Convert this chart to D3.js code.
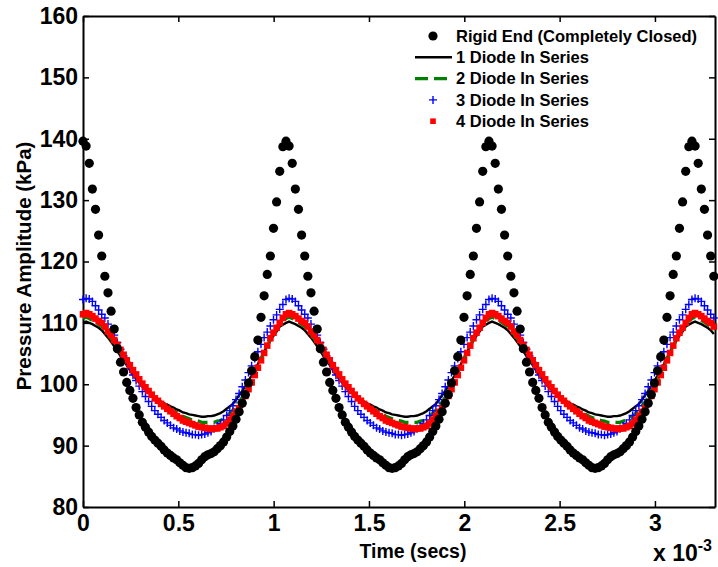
<!DOCTYPE html>
<html>
<head>
<meta charset="utf-8">
<script src="https://cdn.jsdelivr.net/npm/d3@7"></script>
<style>
body { margin: 0; background: #fff; }
text { font-family: "Liberation Sans", Arial, Helvetica, sans-serif; font-weight: bold; fill: #000; }
</style>
</head>
<body>
<svg id="chart" width="718" height="567"></svg>
<script>
// Pressure amplitude vs time, sampled every TIME_STEP (x 10^-3 s)
const TIME_STEP = 0.01638;

const rigidEnd = [
    139.6,138.8,136.0,131.8,128.5,124.3,120.9,117.6,114.9,111.9,109.0,105.8,103.6,102.0,100.3,99.0,97.7,96.2,95.0,93.8,93.0,92.2,91.5,90.9,90.4,89.9,89.3,88.8,88.4,88.0,87.7,87.2,86.8,86.4,86.3,86.4,86.7,87.1,87.7,88.2,88.5,88.7,89.0,89.5,90.0,90.6,91.4,92.3,93.2,94.3,95.5,96.9,98.3,100.2,102.2,104.5,107.2,110.9,114.4,117.9,120.9,125.4,129.7,134.7,138.7,
    139.6,138.8,136.0,131.8,128.5,124.3,120.9,117.6,114.9,111.9,109.0,105.8,103.6,102.0,100.3,99.0,97.7,96.2,95.0,93.8,93.0,92.2,91.5,90.9,90.4,89.9,89.3,88.8,88.4,88.0,87.7,87.2,86.8,86.4,86.3,86.4,86.7,87.1,87.7,88.2,88.5,88.7,89.0,89.5,90.0,90.6,91.4,92.3,93.2,94.3,95.5,96.9,98.3,100.2,102.2,104.5,107.2,110.9,114.4,117.9,120.9,125.4,129.7,134.7,138.7,
    139.6,138.8,136.0,131.8,128.5,124.3,120.9,117.6,114.9,111.9,109.0,105.8,103.6,102.0,100.3,99.0,97.7,96.2,95.0,93.8,93.0,92.2,91.5,90.9,90.4,89.9,89.3,88.8,88.4,88.0,87.7,87.2,86.8,86.4,86.3,86.4,86.7,87.1,87.7,88.2,88.5,88.7,89.0,89.5,90.0,90.6,91.4,92.3,93.2,94.3,95.5,96.9,98.3,100.2,102.2,104.5,107.2,110.9,114.4,117.9,120.9,125.4,129.7,134.7,138.7,
    139.6,138.8,136.0,131.8,128.5,124.3,120.9,117.6
];

const diode1 = [
    110.0,110.2,110.0,109.8,109.5,109.2,108.8,108.2,107.6,106.9,106.2,105.4,104.6,103.9,103.1,102.3,101.5,100.9,100.3,99.6,99.1,98.7,98.2,97.8,97.5,97.2,96.9,96.7,96.4,96.2,95.9,95.7,95.4,95.3,95.1,95.0,94.9,94.8,94.7,94.7,94.8,94.8,94.9,95.1,95.3,95.6,96.0,96.4,96.8,97.5,98.2,98.9,99.7,100.6,101.4,102.4,103.3,104.3,105.3,106.2,107.1,107.9,108.6,109.4,109.7,
    110.0,110.2,110.0,109.8,109.5,109.2,108.8,108.2,107.6,106.9,106.2,105.4,104.6,103.9,103.1,102.3,101.5,100.9,100.3,99.6,99.1,98.7,98.2,97.8,97.5,97.2,96.9,96.7,96.4,96.2,95.9,95.7,95.4,95.3,95.1,95.0,94.9,94.8,94.7,94.7,94.8,94.8,94.9,95.1,95.3,95.6,96.0,96.4,96.8,97.5,98.2,98.9,99.7,100.6,101.4,102.4,103.3,104.3,105.3,106.2,107.1,107.9,108.6,109.4,109.7,
    110.0,110.2,110.0,109.8,109.5,109.2,108.8,108.2,107.6,106.9,106.2,105.4,104.6,103.9,103.1,102.3,101.5,100.9,100.3,99.6,99.1,98.7,98.2,97.8,97.5,97.2,96.9,96.7,96.4,96.2,95.9,95.7,95.4,95.3,95.1,95.0,94.9,94.8,94.7,94.7,94.8,94.8,94.9,95.1,95.3,95.6,96.0,96.4,96.8,97.5,98.2,98.9,99.7,100.6,101.4,102.4,103.3,104.3,105.3,106.2,107.1,107.9,108.6,109.4,109.7,
    110.0,110.2,110.0,109.8,109.5,109.2,108.8,108.2
];

const diode2 = [
    110.7,110.9,110.7,110.4,110.1,109.7,109.4,108.8,108.1,107.4,106.7,105.9,105.1,104.3,103.5,102.7,101.9,101.2,100.5,99.8,99.3,98.8,98.2,97.8,97.4,97.0,96.6,96.3,96.0,95.7,95.4,95.1,94.8,94.6,94.4,94.2,94.1,94.0,93.8,93.8,93.8,93.8,93.8,94.0,94.1,94.4,94.8,95.3,95.8,96.5,97.1,97.9,98.9,99.9,100.8,101.9,103.0,104.1,105.2,106.2,107.3,108.2,108.9,109.7,110.3,
    110.7,110.9,110.7,110.4,110.1,109.7,109.4,108.8,108.1,107.4,106.7,105.9,105.1,104.3,103.5,102.7,101.9,101.2,100.5,99.8,99.3,98.8,98.2,97.8,97.4,97.0,96.6,96.3,96.0,95.7,95.4,95.1,94.8,94.6,94.4,94.2,94.1,94.0,93.8,93.8,93.8,93.8,93.8,94.0,94.1,94.4,94.8,95.3,95.8,96.5,97.1,97.9,98.9,99.9,100.8,101.9,103.0,104.1,105.2,106.2,107.3,108.2,108.9,109.7,110.3,
    110.7,110.9,110.7,110.4,110.1,109.7,109.4,108.8,108.1,107.4,106.7,105.9,105.1,104.3,103.5,102.7,101.9,101.2,100.5,99.8,99.3,98.8,98.2,97.8,97.4,97.0,96.6,96.3,96.0,95.7,95.4,95.1,94.8,94.6,94.4,94.2,94.1,94.0,93.8,93.8,93.8,93.8,93.8,94.0,94.1,94.4,94.8,95.3,95.8,96.5,97.1,97.9,98.9,99.9,100.8,101.9,103.0,104.1,105.2,106.2,107.3,108.2,108.9,109.7,110.3,
    110.7,110.9,110.7,110.4,110.1,109.7,109.4,108.8
];

const diode3 = [
    113.8,114.0,113.9,113.5,112.8,112.1,111.4,110.8,109.8,108.9,108.0,106.8,105.7,104.6,103.6,102.5,101.5,100.6,99.7,98.8,98.0,97.2,96.4,95.7,95.1,94.6,94.1,93.7,93.3,92.9,92.7,92.4,92.2,92.1,92.0,91.8,91.8,91.7,91.8,91.9,92.1,92.3,92.8,93.2,93.6,94.2,94.9,95.7,96.5,97.5,98.5,99.6,100.7,101.9,103.0,104.2,105.3,106.5,107.6,108.5,109.5,110.5,111.3,112.2,113.0,
    113.8,114.0,113.9,113.5,112.8,112.1,111.4,110.8,109.8,108.9,108.0,106.8,105.7,104.6,103.6,102.5,101.5,100.6,99.7,98.8,98.0,97.2,96.4,95.7,95.1,94.6,94.1,93.7,93.3,92.9,92.7,92.4,92.2,92.1,92.0,91.8,91.8,91.7,91.8,91.9,92.1,92.3,92.8,93.2,93.6,94.2,94.9,95.7,96.5,97.5,98.5,99.6,100.7,101.9,103.0,104.2,105.3,106.5,107.6,108.5,109.5,110.5,111.3,112.2,113.0,
    113.8,114.0,113.9,113.5,112.8,112.1,111.4,110.8,109.8,108.9,108.0,106.8,105.7,104.6,103.6,102.5,101.5,100.6,99.7,98.8,98.0,97.2,96.4,95.7,95.1,94.6,94.1,93.7,93.3,92.9,92.7,92.4,92.2,92.1,92.0,91.8,91.8,91.7,91.8,91.9,92.1,92.3,92.8,93.2,93.6,94.2,94.9,95.7,96.5,97.5,98.5,99.6,100.7,101.9,103.0,104.2,105.3,106.5,107.6,108.5,109.5,110.5,111.3,112.2,113.0,
    113.8,114.0,113.9,113.5,112.8,112.1,111.4,110.8
];

const diode4 = [
    111.4,111.6,111.4,111.1,110.7,110.3,110.0,109.4,108.6,108.0,107.2,106.4,105.6,104.8,103.9,103.1,102.3,101.6,100.8,100.1,99.5,98.9,98.3,97.7,97.3,96.8,96.4,96.0,95.6,95.2,94.8,94.5,94.1,93.9,93.7,93.5,93.3,93.1,93.0,92.9,92.8,92.7,92.8,92.8,93.0,93.2,93.6,94.2,94.8,95.5,96.1,97.0,98.1,99.2,100.3,101.5,102.7,103.9,105.1,106.3,107.5,108.4,109.2,110.0,110.8,
    111.4,111.6,111.4,111.1,110.7,110.3,110.0,109.4,108.6,108.0,107.2,106.4,105.6,104.8,103.9,103.1,102.3,101.6,100.8,100.1,99.5,98.9,98.3,97.7,97.3,96.8,96.4,96.0,95.6,95.2,94.8,94.5,94.1,93.9,93.7,93.5,93.3,93.1,93.0,92.9,92.8,92.7,92.8,92.8,93.0,93.2,93.6,94.2,94.8,95.5,96.1,97.0,98.1,99.2,100.3,101.5,102.7,103.9,105.1,106.3,107.5,108.4,109.2,110.0,110.8,
    111.4,111.6,111.4,111.1,110.7,110.3,110.0,109.4,108.6,108.0,107.2,106.4,105.6,104.8,103.9,103.1,102.3,101.6,100.8,100.1,99.5,98.9,98.3,97.7,97.3,96.8,96.4,96.0,95.6,95.2,94.8,94.5,94.1,93.9,93.7,93.5,93.3,93.1,93.0,92.9,92.8,92.7,92.8,92.8,93.0,93.2,93.6,94.2,94.8,95.5,96.1,97.0,98.1,99.2,100.3,101.5,102.7,103.9,105.1,106.3,107.5,108.4,109.2,110.0,110.8,
    111.4,111.6,111.4,111.1,110.7,110.3,110.0,109.4
];

const xTicks = [0, 0.5, 1, 1.5, 2, 2.5, 3];
const yTicks = [80, 90, 100, 110, 120, 130, 140, 150, 160];
const legendLabels = [
    "Rigid End (Completely Closed)",
    "1 Diode In Series",
    "2 Diode In Series",
    "3 Diode In Series",
    "4 Diode In Series"
];

const margin = { left: 83, right: 3, top: 16, bottom: 60 };
const W = 718, H = 567;
const TICK = 6;
const DOT_R = 4.6;
const CROSS = "M-4,0H4M0,-4V4";
const SQ = 6.6;

const svg = d3.select("#chart");

const x = d3.scaleLinear().domain([0, 3.315]).range([margin.left, W - margin.right]);
const y = d3.scaleLinear().domain([80, 160]).range([H - margin.bottom, margin.top]);

const time = rigidEnd.map((_, i) => i * TIME_STEP);
const pts = vals => vals.map((v, i) => [time[i], v]);

// axes box with inward ticks
function styleAxis(g) {
    g.selectAll("path.domain").attr("stroke", "#000").attr("stroke-width", 2);
    g.selectAll(".tick line").attr("stroke", "#000").attr("stroke-width", 1.5);
    g.selectAll("text").attr("fill", "#000");
    g.attr("font-family", null).attr("font-size", null);
}

svg.append("g")
    .attr("transform", `translate(0,${y(80)})`)
    .call(d3.axisBottom(x).tickValues(xTicks).tickFormat(d3.format("")).tickSizeInner(-TICK).tickSizeOuter(0).tickPadding(8))
    .call(styleAxis)
    .selectAll("text").style("font-size", "23px");

svg.append("g")
    .attr("transform", `translate(0,${y(160)})`)
    .call(d3.axisTop(x).tickValues(xTicks).tickFormat("").tickSizeInner(-TICK).tickSizeOuter(0))
    .call(styleAxis);

svg.append("g")
    .attr("transform", `translate(${x(0)},0)`)
    .call(d3.axisLeft(y).tickValues(yTicks).tickSizeInner(-TICK).tickSizeOuter(0).tickPadding(5))
    .call(styleAxis)
    .selectAll("text").style("font-size", "23px");

svg.append("g")
    .attr("transform", `translate(${x(3.315)},0)`)
    .call(d3.axisRight(y).tickValues(yTicks).tickFormat("").tickSizeInner(-TICK).tickSizeOuter(0))
    .call(styleAxis);

// axis titles
svg.append("text")
    .attr("x", 413).attr("y", 558)
    .attr("text-anchor", "middle")
    .style("font-size", "19.5px")
    .text("Time (secs)");

svg.append("text")
    .attr("transform", "translate(31,266) rotate(-90)")
    .attr("text-anchor", "middle")
    .style("font-size", "20.5px")
    .text("Pressure Amplitude (kPa)");

const expo = svg.append("text")
    .attr("x", 653).attr("y", 561)
    .style("font-size", "23px");
expo.append("tspan").text("x 10");
expo.append("tspan").attr("dy", -10).style("font-size", "16px").text("-3");

// series
const line = d3.line().x(d => x(d[0])).y(d => y(d[1]));

svg.append("path")
    .datum(pts(diode1))
    .attr("d", line)
    .attr("fill", "none").attr("stroke", "#000").attr("stroke-width", 2.4);

svg.append("path")
    .datum(pts(diode2))
    .attr("d", line)
    .attr("fill", "none").attr("stroke", "#008000").attr("stroke-width", 3.2)
    .attr("stroke-dasharray", "10,6");

svg.append("g")
    .selectAll("path")
    .data(pts(diode3))
    .join("path")
    .attr("transform", d => `translate(${x(d[0])},${y(d[1])})`)
    .attr("d", CROSS)
    .attr("stroke", "#0000ff").attr("stroke-width", 1.4).attr("fill", "none");

svg.append("g")
    .selectAll("rect")
    .data(pts(diode4))
    .join("rect")
    .attr("x", d => x(d[0]) - SQ / 2).attr("y", d => y(d[1]) - SQ / 2)
    .attr("width", SQ).attr("height", SQ)
    .attr("fill", "#ff0000");

svg.append("g")
    .selectAll("circle")
    .data(pts(rigidEnd))
    .join("circle")
    .attr("cx", d => x(d[0])).attr("cy", d => y(d[1]))
    .attr("r", DOT_R)
    .attr("fill", "#000");

// legend (no box)
const legend = svg.append("g");
const rowY = i => 36 + i * 21.3;

legendLabels.forEach((label, i) => {
    legend.append("text")
        .attr("x", 456).attr("y", rowY(i))
        .attr("dy", "0.35em")
        .style("font-size", "16.5px")
        .text(label);
});

legend.append("circle").attr("cx", 433).attr("cy", rowY(0)).attr("r", DOT_R).attr("fill", "#000");
legend.append("line").attr("x1", 415).attr("x2", 452).attr("y1", rowY(1)).attr("y2", rowY(1))
    .attr("stroke", "#000").attr("stroke-width", 2.4);
legend.append("line").attr("x1", 415).attr("x2", 452).attr("y1", rowY(2)).attr("y2", rowY(2))
    .attr("stroke", "#008000").attr("stroke-width", 3.2).attr("stroke-dasharray", "13,6");
legend.append("path").attr("transform", `translate(433,${rowY(3)})`).attr("d", CROSS)
    .attr("stroke", "#0000ff").attr("stroke-width", 1.4);
legend.append("rect").attr("x", 433 - 2.8).attr("y", rowY(4) - 2.8).attr("width", 5.6).attr("height", 5.6)
    .attr("fill", "#ff0000");
</script>
</body>
</html>
